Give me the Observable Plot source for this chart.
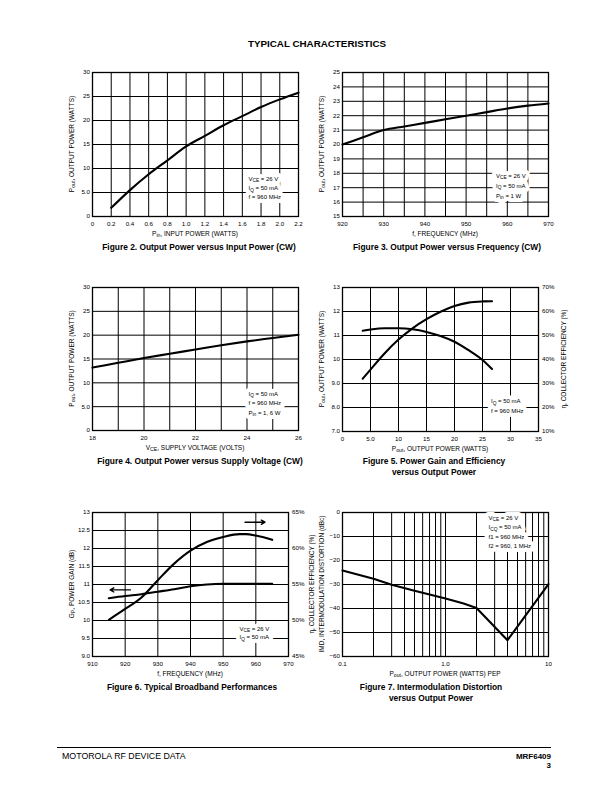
<!DOCTYPE html>
<html><head><meta charset="utf-8">
<script src="https://cdn.jsdelivr.net/npm/d3@7"></script>
<script src="https://cdn.jsdelivr.net/npm/@observablehq/plot@0.6"></script>
<style>
html,body{margin:0;padding:0;background:#fff;}
#page{position:relative;width:612px;height:792px;font-family:"Liberation Sans",Arial,Helvetica,sans-serif;color:#000;overflow:hidden;background:#fff;}
.t{position:absolute;white-space:nowrap;}
</style></head><body><div id="page"></div>
<script>
// ---------------- DATA ----------------
// Figure 2: Output Power vs Input Power
const c1Pin  = [0.2, 0.4, 0.6, 0.8, 1.0, 1.2, 1.4, 1.6, 1.8, 2.0, 2.2];
const c1Pout = [1.8, 5.5, 8.8, 11.7, 14.6, 16.8, 19.0, 20.9, 22.8, 24.4, 25.8];
const c1XTicks = [0, 0.2, 0.4, 0.6, 0.8, 1.0, 1.2, 1.4, 1.6, 1.8, 2.0, 2.2];
const c1XLabels = ["0", "0.2", "0.4", "0.6", "0.8", "1.0", "1.2", "1.4", "1.6", "1.8", "2.0", "2.2"];
const c1YTicks = [0, 5, 10, 15, 20, 25, 30];
const c1YLabels = ["0", "5.0", "10", "15", "20", "25", "30"];

// Figure 3: Output Power vs Frequency
const c2Freq = [920, 925, 930, 935, 940, 945, 950, 955, 960, 965, 970];
const c2Pout = [20.0, 20.5, 21.0, 21.25, 21.5, 21.75, 22.0, 22.25, 22.5, 22.7, 22.85];
const c2XTicks = [920, 930, 940, 950, 960, 970];
const c2XLabels = ["920", "930", "940", "950", "960", "970"];
const c2XGrid = [920, 925, 930, 935, 940, 945, 950, 955, 960, 965, 970];
const c2YTicks = [15, 16, 17, 18, 19, 20, 21, 22, 23, 24, 25];
const c2YLabels = ["15", "16", "17", "18", "19", "20", "21", "22", "23", "24", "25"];

// Figure 4: Output Power vs Supply Voltage
const c3Vce  = [18, 19, 20, 21, 22, 23, 24, 25, 26];
const c3Pout = [13.2, 14.2, 15.2, 16.1, 17.0, 17.9, 18.7, 19.4, 20.1];
const c3XTicks = [18, 20, 22, 24, 26];
const c3XLabels = ["18", "20", "22", "24", "26"];
const c3XGrid = [18, 19, 20, 21, 22, 23, 24, 25, 26];
const c3YTicks = [0, 5, 10, 15, 20, 25, 30];
const c3YLabels = ["0", "5.0", "10", "15", "20", "25", "30"];

// Figure 5: Power Gain and Efficiency vs Output Power
const c4Pout = [3.6, 5, 7.5, 10, 12.5, 15, 17.5, 20, 22.5, 25, 26.7];
const c4Gain = [11.2, 11.25, 11.3, 11.3, 11.26, 11.15, 10.98, 10.74, 10.39, 9.98, 9.6];
const c4Eff  = [32, 35.8, 42.5, 48.3, 53.0, 56.8, 59.9, 62.3, 63.7, 64.2, 64.3];
const c4XTicks = [0, 5, 10, 15, 20, 25, 30, 35];
const c4XLabels = ["0", "5.0", "10", "15", "20", "25", "30", "35"];
const c4YTicks = [7, 8, 9, 10, 11, 12, 13];
const c4YLabels = ["7.0", "8.0", "9.0", "10", "11", "12", "13"];
const c4RTicks = [10, 20, 30, 40, 50, 60, 70];
const c4RLabels = ["10%", "20%", "30%", "40%", "50%", "60%", "70%"];

// Figure 6: Typical Broadband Performances
const c5Freq = [915, 920, 925, 930, 935, 940, 945, 950, 955, 957, 960, 965];
const c5Gain = [10.62, 10.68, 10.73, 10.8, 10.87, 10.95, 11.0, 11.02, 11.02, 11.02, 11.02, 11.02];
const c5Eff  = [50.1, 51.6, 53.2, 55.6, 57.9, 59.7, 60.9, 61.6, 62.0, 62.0, 61.8, 61.2];
const c5XTicks = [910, 920, 930, 940, 950, 960, 970];
const c5XLabels = ["910", "920", "930", "940", "950", "960", "970"];
const c5YTicks = [9, 9.5, 10, 10.5, 11, 11.5, 12, 12.5, 13];
const c5YLabels = ["9.0", "9.5", "10", "10.5", "11", "11.5", "12", "12.5", "13"];
const c5RTicks = [45, 50, 55, 60, 65];
const c5RLabels = ["45%", "50%", "55%", "60%", "65%"];
const c5Arrows = [
  {x1: 921.6, y1: 10.85, x2: 915.4, y2: 10.85},
  {x1: 956.7, y1: 12.73, x2: 962.8, y2: 12.73}
];

// Figure 7: Intermodulation Distortion vs Output Power
const c6Pout = [0.1, 0.2, 0.3, 0.5, 0.7, 1.0, 1.5, 2.0, 4.0, 10];
const c6Imd  = [-24.2, -27.6, -30.1, -32.6, -34.2, -35.8, -37.9, -39.8, -53.2, -29.8];
const c6XTicks = [0.1, 1, 10];
const c6XLabels = ["0.1", "1.0", "10"];
const c6XGrid = [0.1, 0.2, 0.3, 0.4, 0.5, 0.6, 0.7, 0.8, 0.9, 1, 2, 3, 4, 5, 6, 7, 8, 9, 10];
const c6YTicks = [-60, -50, -40, -30, -20, -10, 0];
const c6YLabels = ["\u221260", "\u221250", "\u221240", "\u221230", "\u221220", "\u221210", "0"];

// ---------------- RENDER ----------------
const FONT = '"Liberation Sans", Arial, Helvetica, sans-serif';
const page = document.getElementById("page");
const zip = (xs, ys) => xs.map((x, i) => ({x, y: ys[i]}));
const fmt = (ticks, labels) => { const m = new Map(ticks.map((t, i) => [t, labels[i]])); return d => m.get(d) ?? ""; };

function richText(g, str, x, y, {anchor = "start", rotate = 0, size = 6.5, halo = false} = {}) {
  const t = g.append("text")
    .attr("transform", `translate(${x},${y})` + (rotate ? ` rotate(${rotate})` : ""))
    .attr("text-anchor", anchor).attr("font-size", size).attr("font-family", FONT)
    .attr("fill", halo ? "white" : "black");
  if (halo) t.attr("stroke", "white").attr("stroke-width", 8).attr("stroke-linejoin", "round");
  const parts = str.split(/(_\{[^}]*\})/).filter(s => s.length);
  const shift = size * 0.3;
  let down = false;
  for (const p of parts) {
    const m = p.match(/^_\{([^}]*)\}$/);
    if (m) { t.append("tspan").attr("font-size", size * 0.8).attr("dy", shift).text(m[1]); down = true; }
    else { const s = t.append("tspan").text(p); if (down) { s.attr("dy", -shift); down = false; } }
  }
  return t;
}

function grid(xs, ys) {
  return [
    Plot.ruleX(xs, {stroke: "black", strokeWidth: 1}),
    Plot.ruleY(ys, {stroke: "black", strokeWidth: 1})
  ];
}

function chart(cfg) {
  const [L, T, R, B] = cfg.frame;
  const ml = 34, mt = 8, mb = 30, mr = cfg.mr ?? 12;
  const w = R - L, h = B - T;
  const width = ml + w + mr, height = mt + h + mb;
  const svg = Plot.plot({
    width, height, marginLeft: ml, marginRight: mr, marginTop: mt, marginBottom: mb,
    style: {background: "transparent", fontFamily: FONT, fontSize: "6.2px", overflow: "visible", color: "black"},
    x: {...cfg.x, tickSize: 0, tickPadding: 5, label: null},
    y: {...cfg.y, tickSize: 0, tickPadding: 2.5, label: null},
    marks: [...cfg.marks, Plot.frame({stroke: "black", strokeWidth: 1.3})]
  });
  const div = document.createElement("div");
  div.style.cssText = `position:absolute;left:${L - ml}px;top:${T - mt}px;width:${width}px;height:${height}px;`;
  div.appendChild(svg);
  page.appendChild(div);
  const g = d3.select(svg).append("g");
  const f = {l: ml, t: mt, r: ml + w, b: mt + h, cx: ml + w / 2, cy: mt + h / 2};
  richText(g, cfg.xTitle, f.cx, f.b + 19.5, {anchor: "middle"});
  richText(g, cfg.yTitle, f.l - 18.5, f.cy, {anchor: "middle", rotate: -90});
  if (cfg.rTitle) richText(g, cfg.rTitle, f.r + cfg.rOff, f.cy, {anchor: "middle", rotate: -90});
  const n = cfg.note;
  const base = n.fromTop ? f.t : f.b;
  for (const halo of [true, false])
    n.lines.forEach((line, i) => richText(g, line, f.r + n.dx, base + n.dy[i], {size: 6, halo}));
}

const LW = 2.1;

// Figure 2
chart({
  frame: [92, 72, 298, 216],
  x: {domain: [0, 2.2], ticks: c1XTicks, tickFormat: fmt(c1XTicks, c1XLabels)},
  y: {domain: [0, 30], ticks: c1YTicks, tickFormat: fmt(c1YTicks, c1YLabels)},
  marks: [...grid(c1XTicks, c1YTicks),
    Plot.line(zip(c1Pin, c1Pout), {x: "x", y: "y", curve: "monotone-x", strokeWidth: LW})],
  xTitle: "P_{in}, INPUT POWER (WATTS)",
  yTitle: "P_{out}, OUTPUT POWER (WATTS)",
  note: {lines: ["V_{CE} = 26 V", "I_{Q} = 50 mA", "f = 960 MHz"], dx: -49.5, dy: [-35.5, -26, -16.8]}
});

// Figure 3
chart({
  frame: [342, 72, 548, 216],
  x: {domain: [920, 970], ticks: c2XTicks, tickFormat: fmt(c2XTicks, c2XLabels)},
  y: {domain: [15, 25], ticks: c2YTicks, tickFormat: fmt(c2YTicks, c2YLabels)},
  marks: [...grid(c2XGrid, c2YTicks),
    Plot.line(zip(c2Freq, c2Pout), {x: "x", y: "y", curve: "monotone-x", strokeWidth: LW})],
  xTitle: "f, FREQUENCY (MHz)",
  yTitle: "P_{out}, OUTPUT POWER (WATTS)",
  note: {lines: ["V_{CE} = 26 V", "I_{Q} = 50 mA", "P_{in} = 1 W"], dx: -52, dy: [-38.5, -28.5, -18.5]}
});

// Figure 4
chart({
  frame: [92, 287, 298, 430],
  x: {domain: [18, 26], ticks: c3XTicks, tickFormat: fmt(c3XTicks, c3XLabels)},
  y: {domain: [0, 30], ticks: c3YTicks, tickFormat: fmt(c3YTicks, c3YLabels)},
  marks: [...grid(c3XGrid, c3YTicks),
    Plot.line(zip(c3Vce, c3Pout), {x: "x", y: "y", curve: "monotone-x", strokeWidth: LW})],
  xTitle: "V_{CE}, SUPPLY VOLTAGE (VOLTS)",
  yTitle: "P_{out}, OUTPUT POWER (WATTS)",
  note: {lines: ["I_{Q} = 50 mA", "f = 960 MHz", "P_{in} = 1, 6 W"], dx: -49.5, dy: [-34.5, -25, -15.5]}
});

// Figure 5 (efficiency mapped onto gain axis: 10% -> 7, 70% -> 13)
const c4EffToY = e => 7 + (e - 10) / 10;
chart({
  frame: [342, 287, 538, 431], mr: 34,
  x: {domain: [0, 35], ticks: c4XTicks, tickFormat: fmt(c4XTicks, c4XLabels)},
  y: {domain: [7, 13], ticks: c4YTicks, tickFormat: fmt(c4YTicks, c4YLabels)},
  marks: [...grid(c4XTicks, c4YTicks),
    Plot.line(zip(c4Pout, c4Gain), {x: "x", y: "y", curve: "monotone-x", strokeWidth: LW}),
    Plot.line(zip(c4Pout, c4Eff.map(c4EffToY)), {x: "x", y: "y", curve: "monotone-x", strokeWidth: LW}),
    Plot.text(c4RTicks, {y: c4EffToY, text: (d, i) => c4RLabels[i], frameAnchor: "right", textAnchor: "start", dx: 3.5})],
  xTitle: "P_{out}, OUTPUT POWER (WATTS)",
  yTitle: "P_{out}, OUTPUT POWER (WATTS)",
  rTitle: "\u03B7, COLLECTOR EFFICIENCY (%)", rOff: 27.5,
  note: {lines: ["I_{Q} = 50 mA", "f = 960 MHz"], dx: -47, dy: [-28, -18]}
});

// Figure 6 (efficiency mapped onto gain axis: 45% -> 9, 65% -> 13)
const c5EffToY = e => 9 + (e - 45) / 5;
chart({
  frame: [92, 512, 288, 656], mr: 34,
  x: {domain: [910, 970], ticks: c5XTicks, tickFormat: fmt(c5XTicks, c5XLabels)},
  y: {domain: [9, 13], ticks: c5YTicks, tickFormat: fmt(c5YTicks, c5YLabels)},
  marks: [...grid(c5XTicks, c5YTicks),
    Plot.line(zip(c5Freq, c5Gain), {x: "x", y: "y", curve: "monotone-x", strokeWidth: LW}),
    Plot.line(zip(c5Freq, c5Eff.map(c5EffToY)), {x: "x", y: "y", curve: "monotone-x", strokeWidth: LW}),
    Plot.arrow(c5Arrows, {x1: "x1", y1: "y1", x2: "x2", y2: "y2", strokeWidth: 1.4, headLength: 4.5, headAngle: 60}),
    Plot.text(c5RTicks, {y: c5EffToY, text: (d, i) => c5RLabels[i], frameAnchor: "right", textAnchor: "start", dx: 3.5})],
  xTitle: "f, FREQUENCY (MHz)",
  yTitle: "G_{P}, POWER GAIN (dB)",
  rTitle: "\u03B7, COLLECTOR EFFICIENCY (%)", rOff: 26,
  note: {lines: ["V_{CE} = 26 V", "I_{Q} = 50 mA"], dx: -48.5, dy: [-25.5, -17]}
});

// Figure 7
chart({
  frame: [342, 512, 548, 656],
  x: {type: "log", domain: [0.1, 10], ticks: c6XTicks, tickFormat: fmt(c6XTicks, c6XLabels)},
  y: {domain: [-60, 0], ticks: c6YTicks, tickFormat: fmt(c6YTicks, c6YLabels)},
  marks: [...grid(c6XGrid, c6YTicks),
    Plot.line(zip(c6Pout, c6Imd), {x: "x", y: "y", curve: "linear", strokeWidth: LW})],
  xTitle: "P_{out}, OUTPUT POWER (WATTS) PEP",
  yTitle: "IMD, INTERMODULATION DISTORTION (dBc)",
  note: {fromTop: true, lines: ["V_{CE} = 26 V", "I_{CQ} = 50 mA", "f1 = 960 MHz", "f2 = 960, 1 MHz"], dx: -59.5, dy: [7.5, 17, 26.5, 36]}
});

// ---------------- PAGE TEXT ----------------
function txt(str, {x, base, size, bold = false, align = "center"}) {
  const d = document.createElement("div");
  d.className = "t";
  d.textContent = str;
  d.style.fontSize = size + "px";
  d.style.lineHeight = (size * 1.15) + "px";
  d.style.fontWeight = bold ? "bold" : "normal";
  d.style.top = (base - 0.92 * size) + "px";
  if (align === "center") { d.style.left = x + "px"; d.style.transform = "translateX(-50%)"; }
  else if (align === "left") d.style.left = x + "px";
  else { d.style.right = (612 - x) + "px"; d.style.textAlign = "right"; }
  page.appendChild(d);
}
txt("TYPICAL CHARACTERISTICS", {x: 317, base: 47.5, size: 9.8, bold: true});
const capSize = 8.4;
txt("Figure 2. Output Power versus Input Power (CW)", {x: 199, base: 250.5, size: capSize, bold: true});
txt("Figure 3. Output Power versus Frequency (CW)", {x: 447, base: 250.5, size: capSize, bold: true});
txt("Figure 4. Output Power versus Supply Voltage (CW)", {x: 200, base: 465, size: capSize, bold: true});
txt("Figure 5. Power Gain and Efficiency", {x: 434, base: 465, size: capSize, bold: true});
txt("versus Output Power", {x: 434, base: 476, size: capSize, bold: true});
txt("Figure 6. Typical Broadband Performances", {x: 192, base: 691, size: capSize, bold: true});
txt("Figure 7. Intermodulation Distortion", {x: 431, base: 691, size: capSize, bold: true});
txt("versus Output Power", {x: 431, base: 702, size: capSize, bold: true});

const rule = document.createElement("div");
rule.style.cssText = "position:absolute;left:57px;top:746.5px;width:494px;height:0;border-top:1px solid #000;";
page.appendChild(rule);
txt("MOTOROLA RF DEVICE DATA", {x: 62, base: 759.5, size: 8.8, align: "left"});
txt("MRF6409", {x: 551, base: 759.5, size: 8, bold: true, align: "right"});
txt("3", {x: 551, base: 768, size: 8, bold: true, align: "right"});
</script>
</body></html>
